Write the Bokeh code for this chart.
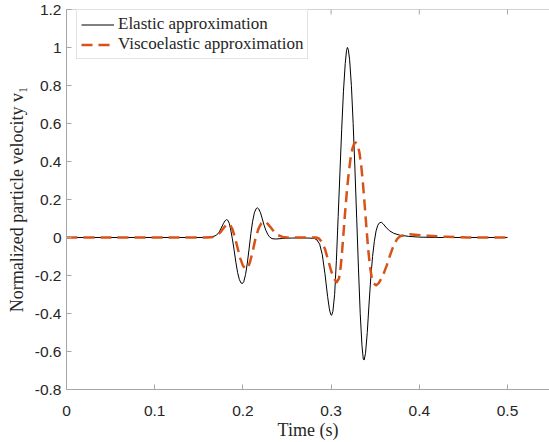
from bokeh.plotting import figure
from bokeh.models import Range1d, FixedTicker, Span
from bokeh.embed import file_html
from bokeh.resources import INLINE

# ---------------- data ----------------
t_el = [0.000, 0.100, 0.155, 0.165, 0.170, 0.173, 0.176, 0.178, 0.180, 0.1815,
        0.183, 0.1845, 0.186, 0.188, 0.190, 0.192, 0.194, 0.196, 0.198, 0.1995,
        0.201, 0.203, 0.205, 0.207, 0.209, 0.211, 0.213, 0.215, 0.2165, 0.218,
        0.220, 0.222, 0.224, 0.226, 0.228, 0.230, 0.233, 0.237, 0.245, 0.255,
        0.265, 0.275, 0.281, 0.284, 0.287, 0.290, 0.293, 0.296, 0.298, 0.2995,
        0.3005, 0.302, 0.304, 0.306, 0.308, 0.310, 0.312, 0.314, 0.316, 0.3175,
        0.3185, 0.3195, 0.321, 0.323, 0.325, 0.327, 0.329, 0.331, 0.333, 0.335,
        0.3365, 0.3375, 0.339, 0.341, 0.343, 0.345, 0.347, 0.349, 0.351, 0.353,
        0.355, 0.357, 0.359, 0.362, 0.366, 0.371, 0.378, 0.388, 0.400, 0.420,
        0.500]
v_el = [0.000, 0.000, 0.000, 0.003, 0.012, 0.028, 0.055, 0.075, 0.089, 0.094,
        0.090, 0.075, 0.045, -0.005, -0.065, -0.130, -0.185, -0.222, -0.240, -0.242,
        -0.232, -0.195, -0.135, -0.060, 0.020, 0.085, 0.130, 0.152, 0.156, 0.150,
        0.130, 0.098, 0.065, 0.038, 0.018, 0.004, -0.006, -0.008, -0.005, -0.003,
        -0.002, -0.003, -0.005, -0.013, -0.035, -0.090, -0.190, -0.310, -0.375, -0.405,
        -0.410, -0.390, -0.300, -0.120, 0.110, 0.340, 0.570, 0.770, 0.915, 0.985,
        1.000, 0.990, 0.935, 0.800, 0.600, 0.360, 0.100, -0.160, -0.400, -0.570,
        -0.640, -0.645, -0.610, -0.500, -0.350, -0.210, -0.100, -0.020, 0.035, 0.065,
        0.078, 0.080, 0.072, 0.055, 0.036, 0.022, 0.012, 0.006, 0.002, 0.000,
        0.000]

t_ve = [0.000, 0.100, 0.160, 0.166, 0.171, 0.175, 0.179, 0.1825, 0.185, 0.188,
        0.191, 0.194, 0.197, 0.200, 0.203, 0.2055, 0.208, 0.211, 0.2145, 0.218,
        0.221, 0.224, 0.227, 0.231, 0.235, 0.240, 0.245, 0.250, 0.283, 0.286,
        0.289, 0.293, 0.297, 0.300, 0.303, 0.3065, 0.309, 0.311, 0.3125, 0.314,
        0.316, 0.318, 0.320, 0.322, 0.324, 0.326, 0.328, 0.330, 0.332, 0.334,
        0.336, 0.338, 0.340, 0.342, 0.344, 0.346, 0.348, 0.351, 0.354, 0.357,
        0.360, 0.363, 0.366, 0.369, 0.372, 0.375, 0.378, 0.383, 0.389, 0.395,
        0.402, 0.410, 0.420, 0.430, 0.440, 0.455, 0.500]
v_ve = [0.000, 0.000, 0.000, 0.003, 0.012, 0.030, 0.055, 0.072, 0.070, 0.045,
        0.000, -0.055, -0.110, -0.148, -0.165, -0.160, -0.130, -0.075, 0.000, 0.050,
        0.076, 0.084, 0.078, 0.056, 0.032, 0.012, 0.003, 0.000, 0.000, -0.005,
        -0.020, -0.060, -0.125, -0.175, -0.215, -0.235, -0.215, -0.150, -0.070, 0.020,
        0.140, 0.250, 0.340, 0.415, 0.465, 0.492, 0.500, 0.488, 0.450, 0.385,
        0.290, 0.175, 0.055, -0.060, -0.150, -0.210, -0.240, -0.252, -0.240, -0.215,
        -0.185, -0.148, -0.105, -0.065, -0.030, -0.007, 0.006, 0.013, 0.017, 0.015,
        0.012, 0.009, 0.006, 0.004, 0.002, 0.000, 0.000]

x_ticks = [0.0, 0.1, 0.2, 0.3, 0.4, 0.5]
x_tick_labels = ["0", "0.1", "0.2", "0.3", "0.4", "0.5"]
y_ticks = [-0.8, -0.6, -0.4, -0.2, 0.0, 0.2, 0.4, 0.6, 0.8, 1.0, 1.2]
y_tick_labels = ["-0.8", "-0.6", "-0.4", "-0.2", "0", "0.2", "0.4", "0.6", "0.8", "1", "1.2"]

# ---------------- figure ----------------
AX = "#a6a6a6"
TXT = "#262626"
Y_MIN, Y_MAX = -0.8, 1.2

p = figure(width=549, height=442, output_backend="svg", toolbar_location=None,
           x_range=Range1d(0, 0.5476), y_range=Range1d(Y_MIN, Y_MAX),
           min_border_left=66, min_border_right=0, min_border_top=9,
           min_border_bottom=51)
p.outline_line_color = None
p.grid.visible = False
p.background_fill_color = "white"
p.border_fill_color = "white"

xax = p.below[0]
yax = p.left[0]
xax.ticker = FixedTicker(ticks=x_ticks)
yax.ticker = FixedTicker(ticks=y_ticks)
xax.major_label_overrides = {t: l for t, l in zip(x_ticks, x_tick_labels)}
yax.major_label_overrides = {t: l for t, l in zip(y_ticks, y_tick_labels)}

for ax in [xax, yax]:
    ax.axis_line_color = AX
    ax.axis_line_width = 1
    ax.major_tick_line_color = AX
    ax.major_tick_in = 5
    ax.major_tick_out = 0
    ax.minor_tick_line_color = None
    ax.major_label_text_font = "Liberation Sans"
    ax.major_label_text_font_size = "15.5px"
    ax.major_label_text_color = TXT
    ax.axis_label_text_font = "Liberation Serif"
    ax.axis_label_text_font_size = "18px"
    ax.axis_label_text_font_style = "normal"
    ax.axis_label_text_color = TXT

xax.major_label_standoff = 16
yax.major_label_standoff = 5
xax.axis_label_standoff = 1
yax.axis_label_standoff = 5
xax.axis_label = "Time (s)"
yax.axis_label = "Normalized particle velocity v\u2081"

# top box edge with inward ticks (MATLAB "box on")
p.add_layout(Span(location=Y_MAX, dimension="width", line_color=AX, line_width=1))
tick_len = 5 * (Y_MAX - Y_MIN) / 382.0
p.segment(x0=x_ticks, y0=[Y_MAX] * len(x_ticks), x1=x_ticks,
          y1=[Y_MAX - tick_len] * len(x_ticks), line_color=AX, line_width=1)

p.line(t_el, v_el, line_color="black", line_width=1, line_join="round",
       legend_label="Elastic approximation")
p.line(t_ve, v_ve, line_color="#D95319", line_width=2.5, line_dash="11 6",
       line_join="round", legend_label="Viscoelastic approximation")

lg = p.legend[0]
lg.location = (10, 330)
lg.label_text_font = "Liberation Serif"
lg.label_text_font_size = "17px"
lg.label_text_color = TXT
lg.glyph_width = 33
lg.glyph_height = 19
lg.label_height = 19
lg.label_standoff = 4
lg.spacing = 0
lg.padding = 4
lg.margin = 0
lg.border_line_color = "#c8c8c8"
lg.border_line_width = 1
lg.background_fill_color = "white"
lg.background_fill_alpha = 1.0

open("out.html", "w").write(file_html(p, INLINE))
